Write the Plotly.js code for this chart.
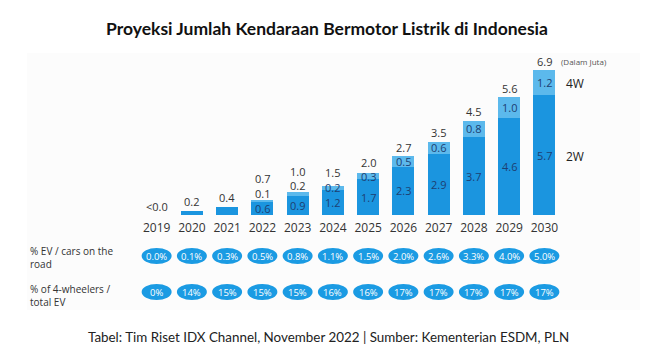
<!DOCTYPE html>
<html>
<head>
<meta charset="utf-8">
<script src="https://cdn.plot.ly/plotly-3.0.1.min.js"></script>
<style>html,body{margin:0;padding:0;background:#fff;}#chart{width:663px;height:357px;}</style>
</head>
<body>
<div id="chart"></div>
<script>
// ---- data ----
var years = [2019, 2020, 2021, 2022, 2023, 2024, 2025, 2026, 2027, 2028, 2029, 2030];
var ev2W = [0, 0.2, 0.4, 0.6, 0.9, 1.2, 1.7, 2.3, 2.9, 3.7, 4.6, 5.7];
var ev4W = [0, 0, 0, 0.1, 0.2, 0.2, 0.3, 0.5, 0.6, 0.8, 1.0, 1.2];
var label2W = ['', '', '', '0.6', '0.9', '1.2', '1.7', '2.3', '2.9', '3.7', '4.6', '5.7'];
var label4W = ['', '', '', '0.1', '0.2', '0.2', '0.3', '0.5', '0.6', '0.8', '1.0', '1.2'];
var labelTotal = ['<0.0', '0.2', '0.4', '0.7', '1.0', '1.5', '2.0', '2.7', '3.5', '4.5', '5.6', '6.9'];
var pctEVcars = ['0.0%', '0.1%', '0.3%', '0.5%', '0.8%', '1.1%', '1.5%', '2.0%', '2.6%', '3.3%', '4.0%', '5.0%'];
var pct4W = ['0%', '14%', '15%', '15%', '15%', '16%', '16%', '17%', '17%', '17%', '17%', '17%'];
var rowLabels = ['% EV / cars on the<br>road', '% of 4-wheelers /<br>total EV'];

(function () {
// ---- layout helpers ----
var FW = 663, FH = 357;
var L = 139, R = 562, T = 47, B = 215;
var PW = R - L, PH = B - T;
var XMIN = 2018.5, XMAX = 2030.5;
function px(x) { return (x - L) / PW; }
function py(y) { return (B - y) / PH; }
var unitPx = PW / (XMAX - XMIN);

var C2W = '#1b95df', C4W = '#5cb9ec', CPILL = '#1b9be3';
var FONT = 'Open Sans, sans-serif';

var traces = [
  {type: 'bar', x: years, y: ev2W, width: 0.62, marker: {color: C2W}, name: '2W', hoverinfo: 'none'},
  {type: 'bar', x: years, y: ev4W, width: 0.62, marker: {color: C4W}, name: '4W', hoverinfo: 'none'}
];

var annotations = [];
var shapes = [];

shapes.push({type: 'rect', xref: 'paper', yref: 'paper', x0: px(27), x1: px(640), y0: py(53), y1: py(310),
  fillcolor: '#fcfcfc', line: {width: 0}, layer: 'below'});

var rowY = [256, 292];
var rowTexts = [pctEVcars, pct4W];
var halfW = 15 / unitPx;
// pixel offsets of the total labels above the stack (positioning only)
var totalShift = [9, 9, 9, 22, 20, 13, 11, 9, 9, 9, 9, 9];

for (var i = 0; i < years.length; i++) {
  var stackTop = ev2W[i] + ev4W[i];
  var outside4W = (i === 3 || i === 4);
  if (label2W[i]) {
    annotations.push({x: years[i], y: ev2W[i] / 2, xref: 'x', yref: 'y', text: label2W[i], showarrow: false,
      font: {family: FONT, size: 11, color: '#1d3f72'}, yanchor: 'middle'});
  }
  if (label4W[i]) {
    if (outside4W) {
      annotations.push({x: years[i], y: stackTop, xref: 'x', yref: 'y', text: label4W[i], showarrow: false,
        yshift: i === 3 ? 7 : 6,
        font: {family: FONT, size: 11, color: '#333'}, yanchor: 'middle'});
    } else {
      annotations.push({x: years[i], y: ev2W[i] + ev4W[i] / 2, xref: 'x', yref: 'y', text: label4W[i], showarrow: false,
        font: {family: FONT, size: 11, color: '#1d3f72'}, yanchor: 'middle'});
    }
  }
  annotations.push({x: years[i], y: stackTop, xref: 'x', yref: 'y', text: labelTotal[i], showarrow: false,
    yshift: totalShift[i], font: {family: FONT, size: 11, color: '#333'}, yanchor: 'middle'});

  for (var r = 0; r < 2; r++) {
    shapes.push({type: 'circle', xref: 'x', yref: 'paper',
      x0: years[i] - halfW, x1: years[i] + halfW, y0: py(rowY[r] + 8), y1: py(rowY[r] - 8),
      fillcolor: CPILL, line: {width: 0}});
    annotations.push({x: years[i], y: py(rowY[r]), xref: 'x', yref: 'paper', text: rowTexts[r][i], showarrow: false,
      font: {family: FONT, size: 9.5, color: '#ffffff'}, xanchor: 'center', yanchor: 'middle'});
  }
}

annotations.push({x: px(28), y: py(257), xref: 'paper', yref: 'paper', text: rowLabels[0], showarrow: false,
  xanchor: 'left', yanchor: 'middle', align: 'left', font: {family: FONT, size: 10, color: '#333'}});
annotations.push({x: px(28), y: py(295), xref: 'paper', yref: 'paper', text: rowLabels[1], showarrow: false,
  xanchor: 'left', yanchor: 'middle', align: 'left', font: {family: FONT, size: 10, color: '#333'}});

annotations.push({x: px(584), y: py(61), xref: 'paper', yref: 'paper', text: '(Dalam Juta)', showarrow: false,
  xanchor: 'center', yanchor: 'middle', font: {family: FONT, size: 8, color: '#555'}});
annotations.push({x: px(575), y: py(83), xref: 'paper', yref: 'paper', text: '4W', showarrow: false,
  xanchor: 'center', yanchor: 'middle', font: {family: FONT, size: 12, color: '#222'}});
annotations.push({x: px(575), y: py(156), xref: 'paper', yref: 'paper', text: '2W', showarrow: false,
  xanchor: 'center', yanchor: 'middle', font: {family: FONT, size: 12, color: '#222'}});

annotations.push({x: px(328), y: py(337), xref: 'paper', yref: 'paper',
  text: 'Tabel: Tim Riset IDX Channel, November 2022 | Sumber: Kementerian ESDM, PLN', showarrow: false,
  xanchor: 'center', yanchor: 'middle', font: {family: 'Lato, sans-serif', size: 13.4, color: '#222'}});

var layout = {
  width: FW, height: FH,
  margin: {l: L, r: FW - R, t: T, b: FH - B, pad: 0},
  paper_bgcolor: '#ffffff', plot_bgcolor: 'rgba(0,0,0,0)',
  barmode: 'stack', showlegend: false,
  title: {text: '<b>Proyeksi Jumlah Kendaraan Bermotor Listrik di Indonesia</b>', xref: 'container', yref: 'container',
    x: 327 / FW, y: 1 - 29 / FH, xanchor: 'center', yanchor: 'middle',
    font: {family: 'Lato, sans-serif', size: 17.5, color: '#111'}},
  xaxis: {range: [XMIN, XMAX], tickvals: years, ticktext: years.map(function (v) { return String(v); }), ticks: '',
    ticklabelstandoff: 4,
    showgrid: false, zeroline: false, showline: false, fixedrange: true,
    tickfont: {family: FONT, size: 12, color: '#333'}},
  yaxis: {range: [0, 8], visible: false, showgrid: false, zeroline: false, fixedrange: true},
  annotations: annotations,
  shapes: shapes
};

try {
  Plotly.newPlot('chart', traces, layout, {displayModeBar: false, staticPlot: true});
} catch (e) {
  document.getElementById('chart').innerText = 'ERR: ' + e.message;
}
})();
</script>
</body>
</html>
